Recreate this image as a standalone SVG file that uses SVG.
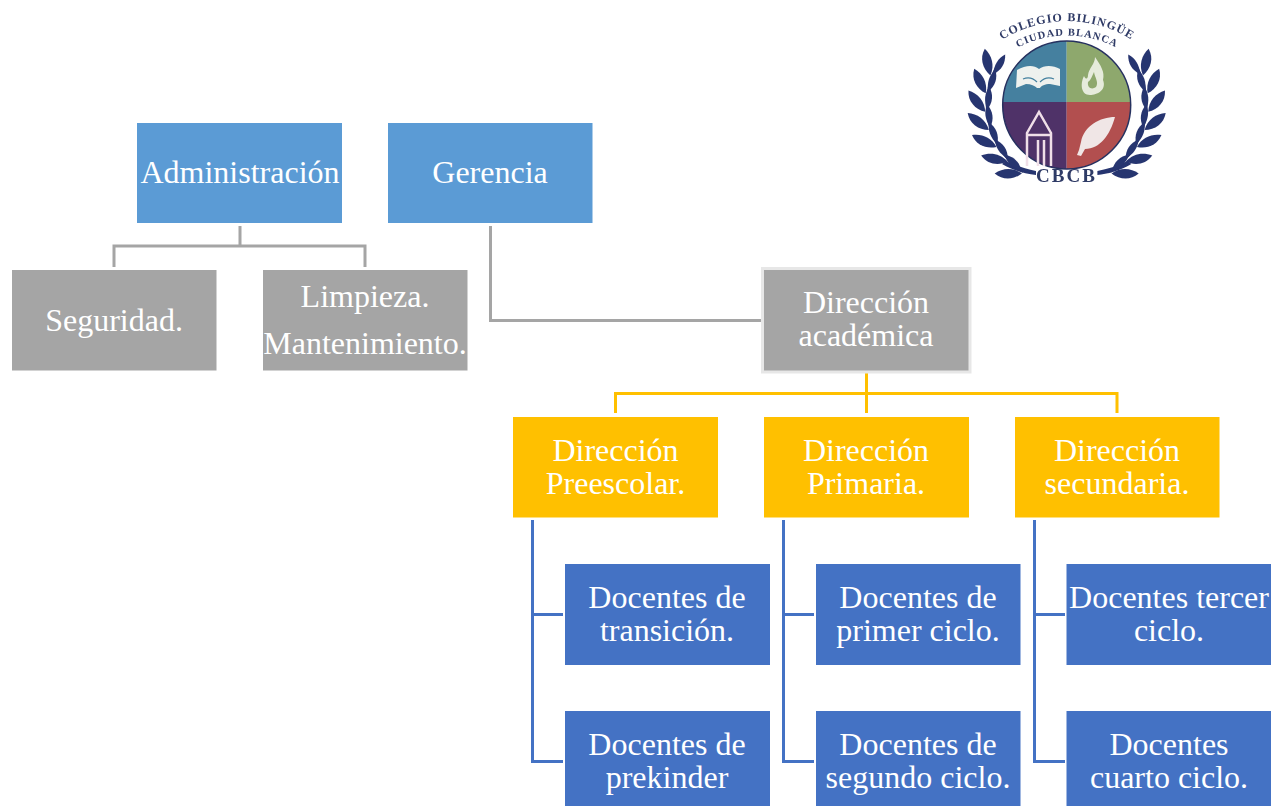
<svg xmlns="http://www.w3.org/2000/svg" width="1273" height="806" viewBox="0 0 1273 806">
<style>
text{font-family:"Liberation Serif","Times New Roman",serif;font-size:32px;fill:#fff;text-anchor:middle}
.blue{fill:#5b9bd5}.gray{fill:#a5a5a5}.gold{fill:#ffc000}.navy{fill:#4472c4}
.cg,.cy,.cb{fill:none;stroke-width:3}
.cg{stroke:#a5a5a5}.cy{stroke:#ffc000}.cb{stroke:#4472c4}
text.lt{font-weight:bold;fill:#2f3a66;font-size:12px;letter-spacing:1px}
.lf{fill:#27346f}
</style>
<defs>
<path id="a1" d="M996 44A122 122 0 0 1 1138 44"/>
<path id="a2" d="M1010 52A107 107 0 0 1 1124 52"/>
<clipPath id="disc"><circle cx="1066.700" cy="105" r="64"/></clipPath>
<filter id="soft" x="-5%" y="-5%" width="110%" height="110%"><feGaussianBlur stdDeviation="0.500"/></filter>
<g id="pair"><path class="lf" d="M985 109C975 106 968 98 969 87C978 90 985 98 985 109Z"/><path class="lf" d="M987 107C993 100 994 92 990 84C985 90 984 98 987 107Z"/></g>
<g id="sprig">
<path fill="none" stroke="#27346f" stroke-width="1.500" d="M1001 59A80 80 0 0 0 1023 172"/>
<path class="lf" d="M1036 175C1026 174 1014 171 1002 164L1006 161C1016 166 1026 169 1036 171Z"/>
<use href="#pair" transform="rotate(-54 1066.700 105)"/>
<use href="#pair" transform="rotate(-41 1066.700 105)"/>
<use href="#pair" transform="rotate(-28 1066.700 105)"/>
<use href="#pair" transform="rotate(-15 1066.700 105)"/>
<use href="#pair" transform="rotate(-2 1066.700 105)"/>
<use href="#pair" transform="rotate(11 1066.700 105)"/>
<use href="#pair" transform="rotate(24 1066.700 105)"/>
</g>
</defs>
<rect width="1273" height="806" fill="#fff"/>
<g id="connectors">
<path class="cg" d="M240 226V246M114 267V246H365V267M490.500 226V320.500H762"/>
<path class="cy" d="M866.500 373V413M615.500 413V393.500H1117V413"/>
<path class="cb" d="M532.500 520V761.500H563M532.500 614.500H563M783.500 520V761.500H814M783.500 614.500H814M1034.500 520V761.500H1065M1034.500 614.500H1065"/>
</g>
<g id="administracion"><rect class="blue" x="137" y="123" width="205" height="100"/><text x="240" y="183">Administración</text></g>
<g id="gerencia"><rect class="blue" x="388" y="123" width="204.500" height="100"/><text x="490" y="183">Gerencia</text></g>
<g id="seguridad"><rect class="gray" x="12" y="270" width="204.500" height="100.500"/><text x="114" y="331">Seguridad.</text></g>
<g id="limpieza"><rect class="gray" x="263" y="270" width="204.500" height="100.500"/><text x="365" y="307">Limpieza.</text><text x="365" y="354">Mantenimiento.</text></g>
<g id="direccion-academica"><rect class="gray" x="762.500" y="268.500" width="207.500" height="103.500" stroke="#e7e7e7" stroke-width="3"/><text x="866" y="313">Dirección</text><text x="866" y="346">académica</text></g>
<g id="direccion-preescolar"><rect class="gold" x="513" y="417" width="205" height="100.500"/><text x="615.500" y="461">Dirección</text><text x="615.500" y="494">Preescolar.</text></g>
<g id="direccion-primaria"><rect class="gold" x="764" y="417" width="205" height="100.500"/><text x="866" y="461">Dirección</text><text x="866" y="494">Primaria.</text></g>
<g id="direccion-secundaria"><rect class="gold" x="1015" y="417" width="204.500" height="100.500"/><text x="1117" y="461">Dirección</text><text x="1117" y="494">secundaria.</text></g>
<g id="docentes-transicion"><rect class="navy" x="565" y="564" width="205" height="101"/><text x="667" y="608">Docentes de</text><text x="667" y="641">transición.</text></g>
<g id="docentes-primer"><rect class="navy" x="816" y="564" width="204.500" height="101"/><text x="918" y="608">Docentes de</text><text x="918" y="641">primer ciclo.</text></g>
<g id="docentes-tercer"><rect class="navy" x="1066.500" y="564" width="204.500" height="101"/><text x="1169" y="608">Docentes tercer</text><text x="1169" y="641">ciclo.</text></g>
<g id="docentes-prekinder"><rect class="navy" x="565" y="711" width="205" height="95"/><text x="667" y="755">Docentes de</text><text x="667" y="788">prekinder</text></g>
<g id="docentes-segundo"><rect class="navy" x="816" y="711" width="204.500" height="95"/><text x="918" y="755">Docentes de</text><text x="918" y="788">segundo ciclo.</text></g>
<g id="docentes-cuarto"><rect class="navy" x="1066.500" y="711" width="204.500" height="95"/><text x="1169" y="755">Docentes</text><text x="1169" y="788">cuarto ciclo.</text></g>
<g id="logo" filter="url(#soft)">
<use href="#sprig"/>
<use href="#sprig" transform="matrix(-1 0 0 1 2133.400 0)"/>
<g clip-path="url(#disc)">
<rect x="1000" y="40" width="66.700" height="62" fill="#44809f"/>
<rect x="1066.700" y="40" width="66" height="62" fill="#8ea86d"/>
<rect x="1000" y="102" width="66.700" height="68" fill="#4f3068"/>
<rect x="1066.700" y="102" width="66" height="68" fill="#b2504f"/>
</g>
<circle cx="1066.700" cy="105" r="64" fill="none" stroke="#26305f" stroke-width="1.500"/>
<path fill="#eef1ee" d="M1017 70C1026 65 1034 65 1039 69C1044 65 1053 65 1060 69L1060 86L1050 84C1045 84 1041 86 1040 88H1037C1035 86 1031 84 1026 84L1016 88Z"/>
<path fill="none" stroke="#44809f" stroke-width="1.200" d="M1023 79C1028 77 1033 78 1037 82M1054 79C1049 77 1044 78 1040 82"/>
<path fill="#e6ebdc" d="M1095 57C1101 66 1105 72 1103 80C1107 90 1097 95 1090 95C1081 95 1080 84 1084 76C1086 80 1088 79 1088 75C1089 68 1095 64 1095 57Z"/>
<path fill="#8ea86d" d="M1094 72C1095 78 1099 82 1096 87C1092 90 1087 88 1088 82C1091 80 1092 76 1094 72Z"/>
<path fill="none" stroke="#f0dfe8" stroke-width="2.500" d="M1027 166V133L1039 112L1051 133V166M1038 140V166M1044 140V166M1027 135L1051 135"/>
<path fill="#f0e6e6" d="M1115 117C1100 117 1084 126 1081 142L1079 150L1077 155L1081 156L1085 149C1100 149 1110 135 1115 117Z"/>
<text class="lt"><textPath href="#a1" startOffset="50%">COLEGIO BILINGÜE</textPath></text>
<text class="lt" style="font-size:10.500px"><textPath href="#a2" startOffset="50%">CIUDAD BLANCA</textPath></text>
<text x="1066.500" y="182" class="lt" style="font-size:19px;letter-spacing:2px">CBCB</text>
</g>
</svg>
